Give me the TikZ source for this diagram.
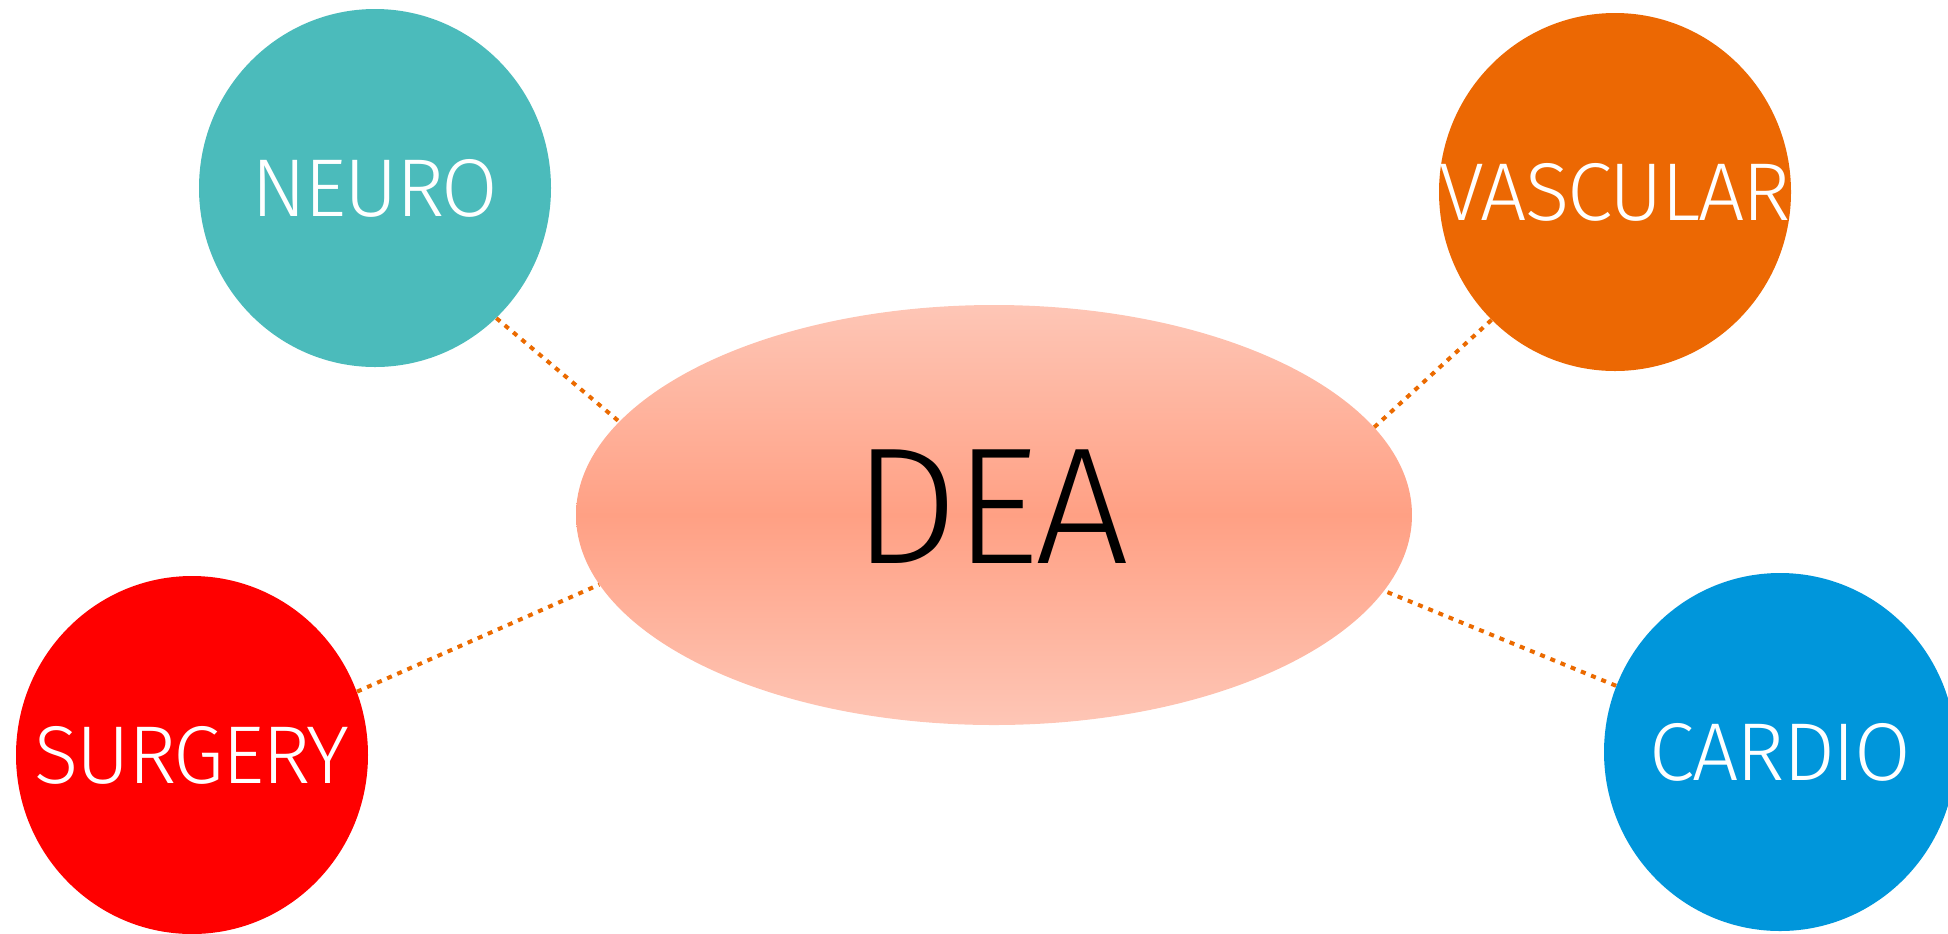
\documentclass[tikz,border=0pt]{standalone}
\usepackage{fontspec}
\usetikzlibrary{shapes.geometric}
\newfontfamily\labfont[FakeStretch=1.0,LetterSpace=-2.5]{Fira Sans Light}
\definecolor{neurocol}{RGB}{75,187,187}
\definecolor{vasccol}{RGB}{236,104,3}
\definecolor{surgcol}{RGB}{255,0,0}
\definecolor{cardcol}{RGB}{0,150,219}
\definecolor{linkcol}{RGB}{235,106,0}
\definecolor{deaedge}{RGB}{254,198,182}
\definecolor{deamid}{RGB}{255,160,132}
\begin{document}
\begin{tikzpicture}[x=0.5pt,y=-0.5pt,
  blob/.style={ellipse, draw=none, inner sep=0pt,
    minimum width=176pt, minimum height=179pt,
    text=white, font=\labfont\fontsize{41}{41}\selectfont},
  hub/.style={ellipse, draw=none, inner sep=0pt,
    minimum width=418pt, minimum height=210pt,
    top color=deaedge, bottom color=deaedge, middle color=deamid,
    text=black, font=\labfont\fontsize{83}{83}\selectfont},
  link/.style={draw=linkcol, line width=2pt, dash pattern=on 2.5pt off 3pt}]
\useasboundingbox (0,0) rectangle (1948,933);

% central hub
\node[hub] (dea) at (994,515) {\raisebox{8pt}{\hspace*{-3pt}DEA}};

% specialty circles
\node[blob, fill=neurocol] (neuro) at (375,188) {\makebox[0pt]{NEURO}};
\node[blob, fill=vasccol]  (vasc)  at (1615,192) {\makebox[0pt]{VASCULAR}};
\node[blob, fill=surgcol]  (surg)  at (192,755) {\makebox[0pt]{SURGERY}};
\node[blob, fill=cardcol]  (card)  at (1780,752) {\makebox[0pt]{CARDIO}};

% dotted links to the hub
\draw[link] (neuro.-47.7) -- (dea.166.7);
\draw[link] (vasc.-134.8) -- (dea.13.8);
\draw[link] (surg.21.5)   -- (dea.190.9);
\draw[link] (card.158.6)  -- (dea.-11.5);
\end{tikzpicture}
\end{document}
